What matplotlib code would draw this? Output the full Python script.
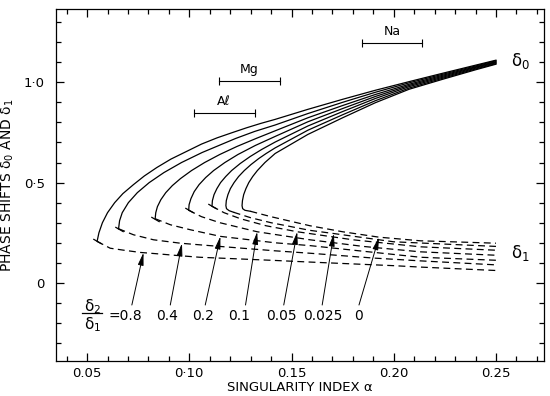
import matplotlib
matplotlib.use('Agg')
import matplotlib.pyplot as plt
from matplotlib.ticker import FixedLocator, MultipleLocator

plt.rcParams['font.family'] = ['DejaVu Sans']
plt.rcParams['mathtext.default'] = 'regular'

# ---------------- data ----------------
ratio_labels = ['=0.8', '0.4', '0.2', '0.1', '0.05', '0.025', '0']

# solid branches (delta_0), from x=0.25 end down to the nose
s08_x = [0.250, 0.240, 0.224, 0.2075, 0.191, 0.175, 0.158, 0.142, 0.135, 0.128, 0.121, 0.1136, 0.106, 0.099, 0.091, 0.0841, 0.078, 0.0727, 0.0675, 0.0635, 0.060, 0.0575, 0.0558, 0.0549]
s08_y = [1.110, 1.085, 1.045, 1.003, 0.960, 0.915, 0.865, 0.815, 0.795, 0.773, 0.749, 0.723, 0.692, 0.657, 0.617, 0.575, 0.533, 0.490, 0.445, 0.400, 0.350, 0.300, 0.250, 0.207]
s04_x = [0.250, 0.240, 0.224, 0.2075, 0.191, 0.175, 0.158, 0.142, 0.132, 0.1227, 0.1063, 0.0962, 0.0876, 0.0804, 0.0746, 0.0702, 0.0672, 0.0659, 0.0654]
s04_y = [1.107, 1.081, 1.040, 0.997, 0.950, 0.900, 0.844, 0.787, 0.755, 0.720, 0.650, 0.600, 0.550, 0.500, 0.450, 0.400, 0.350, 0.310, 0.270]
s02_x = [0.250, 0.240, 0.224, 0.2075, 0.191, 0.175, 0.158, 0.142, 0.1327, 0.1233, 0.1149, 0.1075, 0.1011, 0.0957, 0.0917, 0.0885, 0.0861, 0.0844, 0.0836, 0.0833]
s02_y = [1.103, 1.077, 1.035, 0.990, 0.939, 0.884, 0.823, 0.758, 0.720, 0.680, 0.640, 0.600, 0.560, 0.520, 0.485, 0.450, 0.415, 0.380, 0.350, 0.320]
s01_x = [0.250, 0.240, 0.224, 0.2075, 0.191, 0.175, 0.158, 0.142, 0.1323, 0.1238, 0.1174, 0.1119, 0.1080, 0.1048, 0.1024, 0.1008, 0.0999, 0.0997]
s01_y = [1.100, 1.074, 1.030, 0.984, 0.929, 0.869, 0.803, 0.730, 0.685, 0.640, 0.600, 0.560, 0.525, 0.490, 0.455, 0.420, 0.390, 0.362]
s005_x = [0.250, 0.240, 0.224, 0.2075, 0.191, 0.175, 0.158, 0.142, 0.1354, 0.1298, 0.1249, 0.1207, 0.1178, 0.1153, 0.1135, 0.1121, 0.1113, 0.1111]
s005_y = [1.097, 1.070, 1.025, 0.978, 0.919, 0.854, 0.782, 0.702, 0.665, 0.630, 0.595, 0.560, 0.530, 0.500, 0.470, 0.440, 0.410, 0.382]
s0025_x = [0.250, 0.240, 0.224, 0.2075, 0.191, 0.175, 0.158, 0.142, 0.1376, 0.134, 0.1302, 0.1269, 0.1241, 0.1219, 0.1201, 0.1189, 0.1181, 0.1179, 0.1182, 0.1195, 0.1217]
s0025_y = [1.093, 1.066, 1.020, 0.971, 0.908, 0.838, 0.761, 0.673, 0.645, 0.620, 0.590, 0.560, 0.530, 0.500, 0.470, 0.440, 0.410, 0.385, 0.370, 0.360, 0.352]
s0_x = [0.250, 0.240, 0.224, 0.2075, 0.191, 0.175, 0.158, 0.142, 0.137, 0.1333, 0.131, 0.1291, 0.1277, 0.1266, 0.1260, 0.1258, 0.1261, 0.1272, 0.1299]
s0_y = [1.090, 1.062, 1.015, 0.965, 0.898, 0.823, 0.740, 0.645, 0.600, 0.560, 0.530, 0.500, 0.470, 0.440, 0.410, 0.385, 0.370, 0.362, 0.357]

# dashed branches (delta_1), from the nose to x=0.25
d08_x = [0.0549, 0.0613, 0.068, 0.076, 0.0846, 0.0925, 0.105, 0.142, 0.159, 0.200, 0.213, 0.250]
d08_y = [0.207, 0.173, 0.163, 0.152, 0.145, 0.138, 0.128, 0.112, 0.104, 0.086, 0.079, 0.062]
d04_x = [0.0654, 0.0727, 0.0825, 0.0956, 0.105, 0.142, 0.159, 0.190, 0.213, 0.250]
d04_y = [0.270, 0.240, 0.215, 0.198, 0.190, 0.160, 0.148, 0.124, 0.110, 0.090]
d02_x = [0.0833, 0.0907, 0.1005, 0.1152, 0.142, 0.159, 0.185, 0.213, 0.250]
d02_y = [0.320, 0.290, 0.265, 0.232, 0.200, 0.186, 0.158, 0.128, 0.113]
d01_x = [0.0997, 0.106, 0.115, 0.1332, 0.159, 0.185, 0.213, 0.250]
d01_y = [0.362, 0.330, 0.300, 0.255, 0.215, 0.182, 0.155, 0.138]
d005_x = [0.1111, 0.117, 0.125, 0.1375, 0.1528, 0.180, 0.213, 0.250]
d005_y = [0.382, 0.350, 0.320, 0.285, 0.255, 0.215, 0.180, 0.163]
d0025_x = [0.1217, 0.130, 0.140, 0.159, 0.1707, 0.200, 0.250]
d0025_y = [0.352, 0.325, 0.300, 0.262, 0.246, 0.205, 0.182]
d0_x = [0.1299, 0.140, 0.159, 0.175, 0.1928, 0.213, 0.250]
d0_y = [0.357, 0.330, 0.285, 0.255, 0.228, 0.210, 0.198]

# arrows from ratio labels to the delta_1 curves
tip_x = [0.0776, 0.0964, 0.1152, 0.1332, 0.1528, 0.1707, 0.1928]
tip_y = [0.151, 0.197, 0.232, 0.255, 0.255, 0.246, 0.228]
tail_x = [0.0719, 0.0907, 0.1078, 0.1275, 0.1462, 0.1650, 0.1830]
tail_y = [-0.11] * 7
label_x = [0.0603, 0.0892, 0.1069, 0.1245, 0.1451, 0.1654, 0.1828]
label_y = -0.163

# element ranges
elements = ['Na', 'Mg', 'A\u2113']
elem_lo = [0.1843, 0.1144, 0.1021]
elem_hi = [0.2140, 0.1446, 0.1319]
elem_y = [1.197, 1.0065, 0.848]

x_ticks = [0.05, 0.10, 0.15, 0.20, 0.25]
x_ticklabels = ['0.05', '0\u00b710', '0.15', '0.20', '0.25']
y_ticks = [0.0, 0.5, 1.0]
y_ticklabels = ['0', '0\u00b75', '1\u00b70']

solid_x = [s08_x, s04_x, s02_x, s01_x, s005_x, s0025_x, s0_x]
solid_y = [s08_y, s04_y, s02_y, s01_y, s005_y, s0025_y, s0_y]
dash_x = [d08_x, d04_x, d02_x, d01_x, d005_x, d0025_x, d0_x]
dash_y = [d08_y, d04_y, d02_y, d01_y, d005_y, d0025_y, d0_y]

# ---------------- figure ----------------
fig = plt.figure(figsize=(5.5, 3.96), dpi=100)
ax = fig.add_axes([56 / 550, 1 - 361 / 396, (544 - 56) / 550, (361 - 9) / 396])
ax.set_xlim(0.0348, 0.2735)
ax.set_ylim(-0.389, 1.365)

lw = 0.9
for i in range(7):
    ax.plot(solid_x[i], solid_y[i], color='black', lw=lw, solid_joinstyle='round')
    ax.plot(dash_x[i], dash_y[i], color='black', lw=lw, dashes=(5.5, 3.5))
    if i < 5:
        ax.plot([solid_x[i][-1]], [solid_y[i][-1]], marker=(2, 0, 60),
                markersize=7, color='black', mew=lw)

for i in range(7):
    ax.annotate('', xy=(tip_x[i], tip_y[i]), xytext=(tail_x[i], tail_y[i]),
                arrowprops=dict(arrowstyle='-|>,head_width=0.17,head_length=0.75',
                                color='black', lw=0.7, shrinkA=0, shrinkB=0))
    ha = 'left' if i == 0 else 'center'
    ax.text(label_x[i], label_y, ratio_labels[i], ha=ha, va='center', fontsize=10)

# fraction delta2/delta1
ax.text(0.0525, -0.118, r'$\delta_2$', ha='center', va='center', fontsize=11)
ax.plot([0.0475, 0.0574], [-0.150, -0.150], color='black', lw=0.9)
ax.text(0.0525, -0.208, r'$\delta_1$', ha='center', va='center', fontsize=11)

# end labels
ax.text(0.2575, 1.105, r'$\delta_0$', ha='left', va='center', fontsize=12)
ax.text(0.2575, 0.148, r'$\delta_1$', ha='left', va='center', fontsize=12)

# element bars
for name, lo, hi, yy in zip(elements, elem_lo, elem_hi, elem_y):
    ax.plot([lo, hi], [yy, yy], color='black', lw=0.8)
    ax.plot([lo, hi], [yy, yy], linestyle='none', marker='|', markersize=6,
            color='black', mew=0.8)
    ax.text((lo + hi) / 2, yy + 0.025, name, ha='center', va='bottom', fontsize=9)

# ticks
ax.xaxis.set_major_locator(FixedLocator(x_ticks))
ax.set_xticklabels(x_ticklabels)
ax.xaxis.set_minor_locator(MultipleLocator(0.01))
ax.yaxis.set_major_locator(FixedLocator(y_ticks))
ax.set_yticklabels(y_ticklabels)
ax.yaxis.set_minor_locator(MultipleLocator(0.1))
ax.tick_params(which='both', direction='in', top=True, right=True, width=0.9, labelsize=9.5)
ax.tick_params(which='major', length=6)
ax.tick_params(which='minor', length=3.5)
ax.tick_params(axis='x', pad=4)
ax.tick_params(axis='y', pad=8)
for sp in ax.spines.values():
    sp.set_linewidth(0.9)

ax.set_xlabel('SINGULARITY INDEX \u03b1', fontsize=9.5, labelpad=1)
ax.set_ylabel('PHASE SHIFTS \u03b4$_0$ AND \u03b4$_1$', fontsize=10, labelpad=6)

fig.savefig('out.png', dpi=100)
